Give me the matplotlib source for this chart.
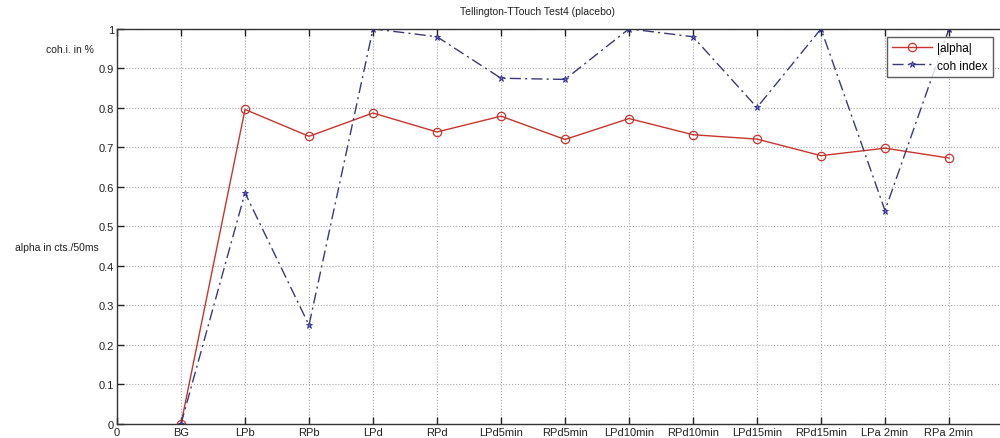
import numpy as np
import matplotlib
matplotlib.use("Agg")
import matplotlib.pyplot as plt

# データ
labels = ["0", "BG", "LPb", "RPb", "LPd", "RPd", "LPd5min", "RPd5min", "LPd10min",
          "RPd10min", "LPd15min", "RPd15min", "LPa 2min", "RPa 2min"]
alpha_vals = [0.0, 0.796, 0.728, 0.787, 0.739, 0.779, 0.72, 0.773, 0.732, 0.721, 0.679, 0.698, 0.673]
coh_vals = [0.0, 0.585, 0.25, 1.0, 0.98, 0.875, 0.872, 1.0, 0.98, 0.801, 1.0, 0.54, 1.0]
y_ticks = [0, 0.1, 0.2, 0.3, 0.4, 0.5, 0.6, 0.7, 0.8, 0.9, 1]

plt.rcParams['font.family'] = ['Liberation Sans', 'DejaVu Sans']

fig = plt.figure(figsize=(10, 4.39), dpi=100)
ax = fig.add_axes([0.117, 0.032, 0.896, 0.9])

x = np.arange(1, len(alpha_vals) + 1)
ax.plot(x, alpha_vals, color="#c8352e", lw=1.0, marker="o", ms=6,
        mfc="none", mec="#c8352e", mew=0.9, label="|alpha|")
ax.plot(x, coh_vals, color="#3a3a7a", lw=1.0, ls=(0, (8, 3, 1.5, 3)), marker="*", ms=5,
        mfc="#6a6ac0", mec="#2c2c90", mew=0.6, label="coh index")

ax.set_xlim(0, 14)
ax.set_ylim(0, 1)
ax.set_xticks(range(len(labels)))
ax.set_xticklabels(labels)
ax.set_yticks(y_ticks)
ax.set_yticklabels([f"{t:g}" for t in y_ticks])
ax.tick_params(direction="in", length=5, width=1.0, labelsize=8, colors="#222222",
               top=True, right=True, pad=2)
ax.grid(True, ls=":", color="#a8a8a8", lw=0.8)
for s in ax.spines.values():
    s.set_color("#333333")
    s.set_linewidth(1.0)

fig.text(0.537, 0.972, "Tellington-TTouch Test4 (placebo)", ha="center", va="center",
         fontsize=7.5, color="#222222")
fig.text(0.07, 1 - 50 / 439, "coh.i. in %", ha="center", va="center", fontsize=7.5, color="#222222")
fig.text(0.057, 1 - 248 / 439, "alpha in cts./50ms", ha="center", va="center", fontsize=7.5,
         color="#222222")

leg = ax.legend(loc="upper left", bbox_to_anchor=(0.887, 1 - 38 / 439),
                bbox_transform=fig.transFigure, fontsize=8.5, frameon=True, fancybox=False,
                borderaxespad=0, handlelength=3.4, handletextpad=0.4, labelspacing=0.45,
                borderpad=0.45)
leg.get_frame().set_edgecolor("#333333")
leg.get_frame().set_linewidth(1.0)

fig.savefig("out.png", dpi=100)
